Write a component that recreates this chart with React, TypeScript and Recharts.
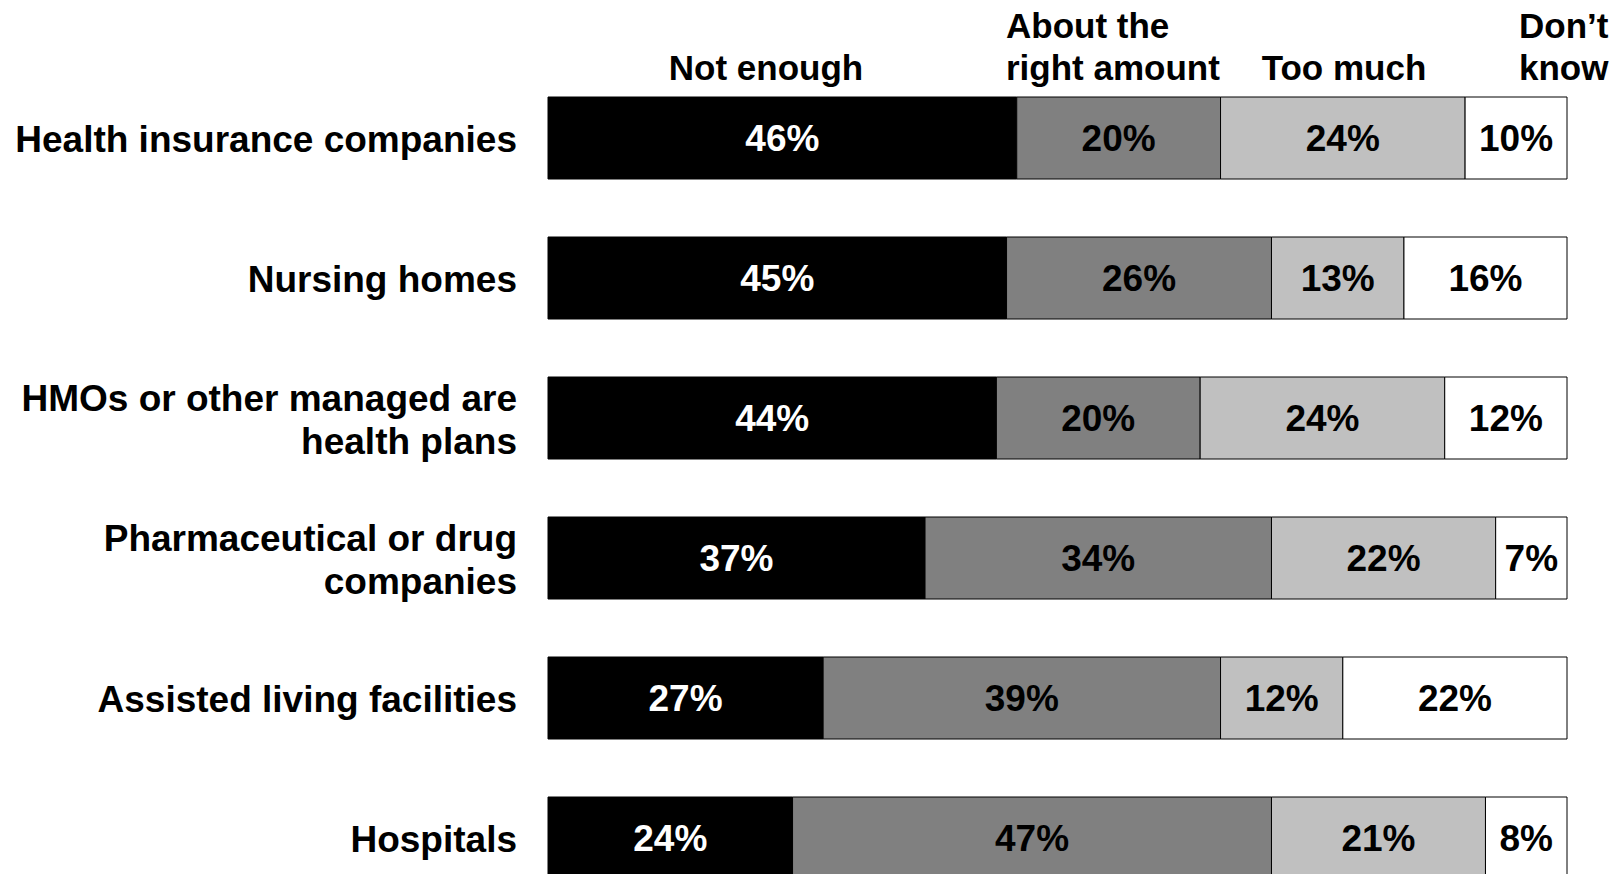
import React from "react";
import { BarChart, Bar, XAxis, YAxis, LabelList } from "recharts";

// categories and shares (%)
const categories = [
  "Health insurance companies",
  "Nursing homes",
  "HMOs or other managed are|health plans",
  "Pharmaceutical or drug|companies",
  "Assisted living facilities",
  "Hospitals",
];
const notEnough = [46, 45, 44, 37, 27, 24];
const rightAmount = [20, 26, 20, 34, 39, 47];
const tooMuch = [24, 13, 24, 22, 12, 21];
const dontKnow = [10, 16, 12, 7, 22, 8];

const seriesNames = ["Not enough", "About the|right amount", "Too much", "Don\u2019t|know"];

const data = categories.map((name, i) => ({
  name,
  notEnough: notEnough[i],
  rightAmount: rightAmount[i],
  tooMuch: tooMuch[i],
  dontKnow: dontKnow[i],
}));

const FONT = "'Liberation Sans', Arial, Helvetica, sans-serif";

function CategoryTick(props: any) {
  const { x, y, payload } = props;
  const lines = String(payload.value).split("|");
  const lh = 43;
  const start = -((lines.length - 1) * lh) / 2;
  return (
    <g>
      {lines.map((l, i) => (
        <text
          key={i}
          x={x}
          y={y + start + i * lh}
          dy="0.38em"
          textAnchor="end"
          fontFamily={FONT}
          fontWeight="bold"
          fontSize={37}
          fill="#000"
        >
          {l}
        </text>
      ))}
    </g>
  );
}

const labelStyle = (color: string) => ({
  fill: color,
  fontFamily: FONT,
  fontWeight: "bold" as const,
  fontSize: 37,
});

const fmt = (v: any) => `${v}%`;

// header labels above the columns
const headers = [
  { lines: seriesNames[0].split("|"), x: 766, anchor: "middle" },
  { lines: seriesNames[1].split("|"), x: 1006, anchor: "start" },
  { lines: seriesNames[2].split("|"), x: 1344, anchor: "middle" },
  { lines: seriesNames[3].split("|"), x: 1519, anchor: "start" },
];

export default function App() {
  return (
    <div style={{ position: "absolute", left: 0, top: 0, width: 1621, height: 874, overflow: "hidden", background: "#fff" }}>
      <BarChart
        width={1621}
        height={908}
        data={data}
        layout="vertical"
        margin={{ top: 68, right: 54, bottom: 0, left: 0 }}
        barSize={82}
      >
        <XAxis type="number" domain={[0, 100]} hide />
        <YAxis
          type="category"
          dataKey="name"
          width={548}
          axisLine={false}
          tickLine={false}
          tickSize={0}
          tickMargin={31}
          interval={0}
          tick={<CategoryTick />}
        />
        <Bar dataKey="notEnough" stackId="a" fill="#000000" stroke="#000" strokeWidth={1} isAnimationActive={false}>
          <LabelList dataKey="notEnough" position="center" formatter={fmt} style={labelStyle("#fff")} />
        </Bar>
        <Bar dataKey="rightAmount" stackId="a" fill="#808080" stroke="#000" strokeWidth={1} isAnimationActive={false}>
          <LabelList dataKey="rightAmount" position="center" formatter={fmt} style={labelStyle("#000")} />
        </Bar>
        <Bar dataKey="tooMuch" stackId="a" fill="#c0c0c0" stroke="#000" strokeWidth={1} isAnimationActive={false}>
          <LabelList dataKey="tooMuch" position="center" formatter={fmt} style={labelStyle("#000")} />
        </Bar>
        <Bar dataKey="dontKnow" stackId="a" fill="#ffffff" stroke="#000" strokeWidth={1} isAnimationActive={false}>
          <LabelList dataKey="dontKnow" position="center" formatter={fmt} style={labelStyle("#000")} />
        </Bar>
      </BarChart>
      <svg width={1621} height={90} style={{ position: "absolute", left: 0, top: 0, pointerEvents: "none" }}>
        {headers.map((h, i) =>
          h.lines.map((l, j) => (
            <text
              key={`${i}-${j}`}
              x={h.x}
              y={67 - (h.lines.length - 1 - j) * 42}
              dy="0.36em"
              textAnchor={h.anchor as any}
              fontFamily={FONT}
              fontWeight="bold"
              fontSize={35}
              fill="#000"
            >
              {l}
            </text>
          ))
        )}
      </svg>
    </div>
  );
}
